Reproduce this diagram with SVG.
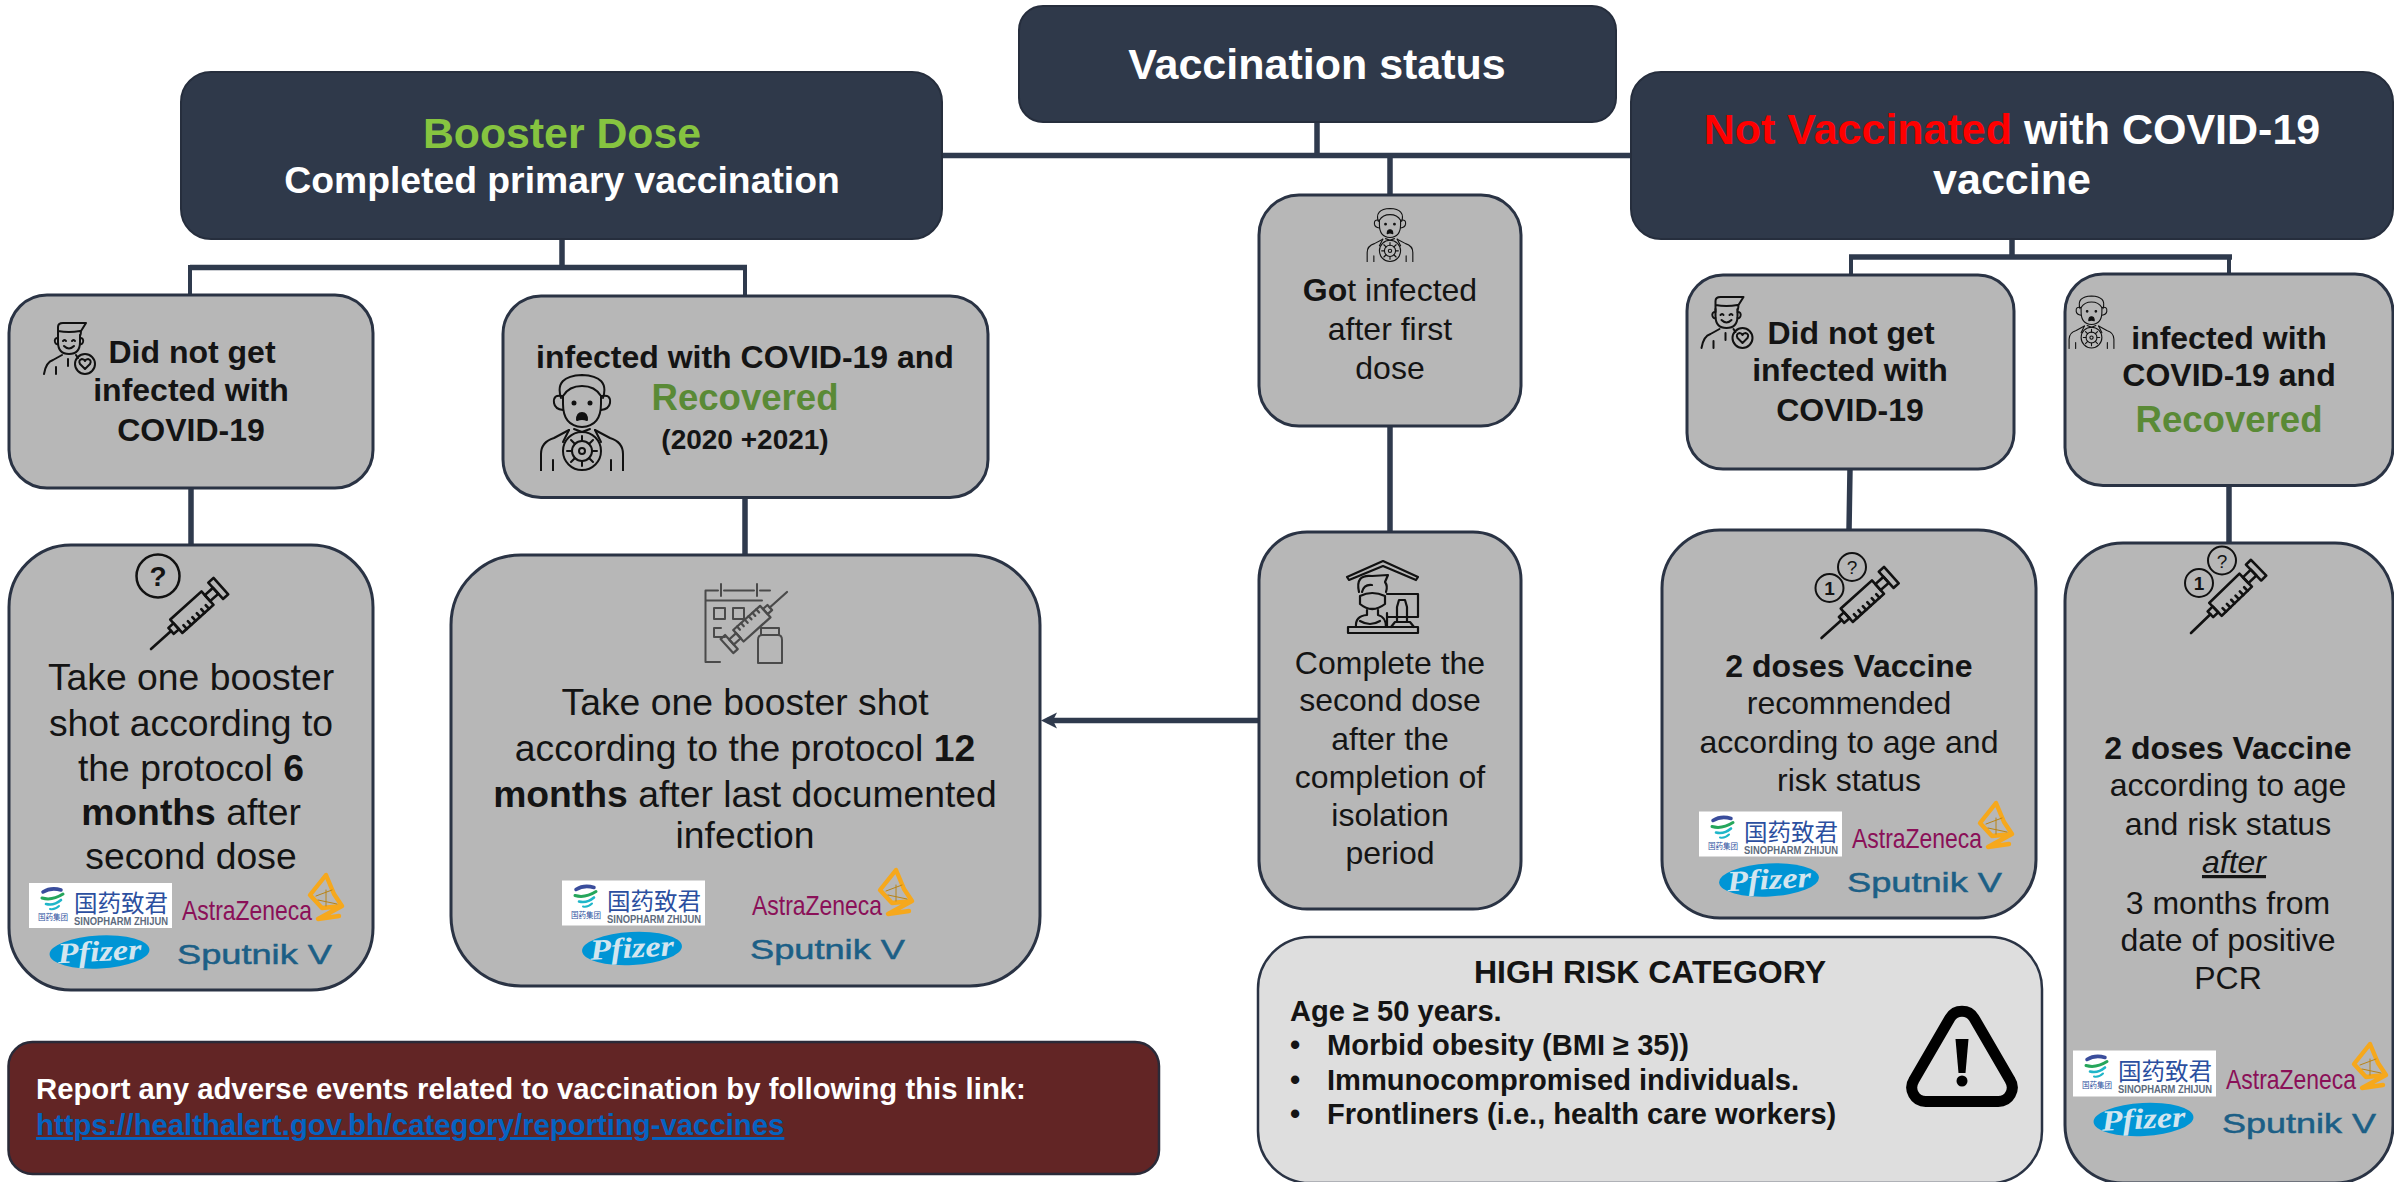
<svg xmlns="http://www.w3.org/2000/svg" width="2394" height="1182" viewBox="0 0 2394 1182">
<style>
text{font-family:"Liberation Sans",Arial,sans-serif;fill:#141414}
.dark{fill:#2f394a;stroke:#262e3d;stroke-width:2}
.grey{fill:#b7b7b7;stroke:#2a3344;stroke-width:3}
.c{text-anchor:middle}
.w{fill:#fff;font-weight:700}
.b{font-weight:700}
.t32{font-size:32px}
.t37{font-size:37.3px}
.rec{fill:#5a8a36;font-weight:700;font-size:36.6px}
.conn{fill:none;stroke:#2f3a4d;stroke-width:5.5}
.thin{stroke-width:4}
.ic{fill:none;stroke:#111;stroke-width:2;stroke-linecap:round;stroke-linejoin:round}
.syr{fill:none;stroke:currentColor;stroke-width:2.6;stroke-linejoin:round;stroke-linecap:round}
.cn{font-family:"Liberation Sans","Noto Sans CJK SC",sans-serif;fill:#2b4fa0}
.sino{font-weight:700;font-size:10.5px;fill:#5d6b7d}
.az{font-size:28px;fill:#8a1058}
.pf{font-family:"Liberation Serif",serif;font-weight:700;font-style:italic;font-size:29px;fill:#d3e5ef}
.sp{font-size:28px;fill:#1c5f86;stroke:#1c5f86;stroke-width:.5}
</style>
<defs>
<marker id="arr" markerUnits="userSpaceOnUse" markerWidth="18" markerHeight="18" refX="10" refY="9" orient="auto"><path d="M0 1L16 9L0 17L4 9Z" fill="#2f3a4d"/></marker>
<symbol id="man-ok" viewBox="0 0 53 53">
<g class="ic" stroke-width="1.5">
<path d="M15 15V5Q15 1 20 1H43L38 9Q38 12 37 14M15 9Q26 11 37 9"/>
<path d="M15 13V20Q15 32 26 32Q37 32 37 20V13"/>
<path d="M15 16Q11 16 12 20Q13 23 15 22M37 16Q41 16 40 20Q39 23 37 22"/>
<path d="M20 19Q22 17 23 19M29 19Q31 17 32 19M21 24Q26 29 31 24"/>
<path d="M1 52Q3 40 10 38L19 33M33 33L35 36M13 45V52M25 37V44"/>
<circle cx="42" cy="42" r="10"/>
<path d="M42 47L37 42Q35 38 39 37Q41 37 42 39Q43 37 45 37Q49 38 47 42Z"/>
</g>
</symbol>
<symbol id="man-sick" viewBox="0 0 86 97">
<g class="ic" stroke-width="2.8">
<path d="M22 24Q15 2 43 1Q71 2 64 24"/>
<path d="M24 22Q30 12 43 12Q56 12 62 22"/>
<path d="M24 22V30Q24 52 43 53Q62 52 62 30V22"/>
<path d="M23 22Q14 20 15 29Q16 35 24 36M63 22Q72 20 71 29Q70 35 62 36"/>
<path d="M38 46Q38 39 43 39Q48 39 48 46Q43 44 38 46Z" fill="#111"/>
<circle cx="35" cy="29" r="1.5" fill="#111"/><circle cx="51" cy="29" r="1.5" fill="#111"/>
<path d="M2 97V80Q2 68 15 64L30 56M84 97V80Q84 68 71 64L56 56M14 97V86M72 97V86"/>
<path d="M30 56L24 68M56 56L62 68M35 55L43 58L51 55"/>
<circle cx="43" cy="77" r="19"/>
<circle cx="43" cy="77" r="10"/><circle cx="43" cy="77" r="3"/>
<path d="M43 67V62M43 87V92M33 77H28M53 77H58M36 70L32 66M50 84L54 88M36 84L32 88M50 70L54 66"/>
</g>
</symbol>
<g id="syr" class="syr">
<path d="M0 0H27"/>
<path d="M27-4H34V4H27Z"/>
<path d="M34-9H76V9H34Z"/>
<path d="M40 9V4M46 9V4M52 9V4M58 9V4M64 9V4M70 9V4"/>
<path d="M76-4H87V4H76Z"/>
<path d="M87-11H94V11H87Z"/>
</g>
<g id="za" fill="none" stroke-linejoin="round" stroke-linecap="round">
<path d="M144-45L128-25L140-12L160-14L152-26ZM160-14L136-1L157-4" stroke="#f6a81c" stroke-width="4.4"/>
<path d="M134-24L150-30M136-20L155-16M144-30V-14" stroke="#b98416" stroke-width="1"/>
</g>
<g id="sinomark" fill="none" stroke-linecap="round">
<path d="M14 9Q22 4 32 7" stroke="#3a4d9c" stroke-width="3.5"/>
<path d="M13 15Q23 18 34 11" stroke="#26a65b" stroke-width="3"/>
<path d="M17 21Q25 23 32 17" stroke="#1fb6c9" stroke-width="2.6"/>
<path d="M21 26Q26 27 30 23" stroke="#1fb6c9" stroke-width="2"/>
</g>
</defs>
<rect width="2394" height="1182" fill="#fff"/>

<g id="connectors">
<path class="conn" d="M942 155.500H1631M1317 122V155.500M1390 155.500V195"/>
<path class="conn" d="M562 239V267.500M190 267.500H747"/>
<path class="conn thin" d="M190 265V296M745 265V296"/>
<path class="conn" d="M191 488V545M745 498V555M1390 426V532"/>
<path class="conn" d="M2012 239V257M1849 257H2232"/>
<path class="conn thin" d="M1851 255V276M2229 255V275"/>
<path class="conn" d="M1850 469L1849 531M2229 485V544"/>
<path class="conn" d="M1258 720.500H1047" marker-end="url(#arr)"/>
</g>

<g id="node-status">
<rect class="dark" x="1019" y="6" width="597" height="116" rx="24"/>
<text class="c w" x="1317" y="79" style="font-size:43px">Vaccination status</text>
</g>

<g id="node-booster">
<rect class="dark" x="181" y="72" width="761" height="167" rx="30"/>
<text class="c b" x="562" y="148" style="font-size:42.8px;fill:#86c440">Booster Dose</text>
<text class="c w" x="562" y="193" style="font-size:37.3px">Completed primary vaccination</text>
</g>

<g id="node-not-vaccinated">
<rect class="dark" x="1631" y="72" width="762" height="167" rx="30"/>
<text class="c w" x="2012" y="144" style="font-size:43px"><tspan style="fill:#ff0000">Not Vaccinated</tspan> with COVID-19</text>
<text class="c w" x="2012" y="194" style="font-size:43px">vaccine</text>
</g>

<g id="node-a1">
<rect class="grey" x="9" y="295" width="364" height="193" rx="38"/>
<use href="#man-ok" x="43" y="322" width="53" height="53"/>
<text class="c b t32" x="192" y="363">Did not get</text>
<text class="c b t32" x="191" y="401">infected with</text>
<text class="c b t32" x="191" y="441">COVID-19</text>
</g>

<g id="node-a2">
<rect class="grey" x="9" y="545" width="364" height="445" rx="62"/>
<circle class="ic" cx="158" cy="576" r="21.500" style="stroke-width:2.5px"/>
<text class="c b" x="158" y="586" style="font-size:28px">?</text>
<use href="#syr" transform="translate(151 649) rotate(-42)" color="#111"/>
<text class="c t37" x="191" y="690">Take one booster</text>
<text class="c t37" x="191" y="736">shot according to</text>
<text class="c t37" x="191" y="781">the protocol <tspan class="b">6</tspan></text>
<text class="c t37" x="191" y="825"><tspan class="b">months</tspan> after</text>
<text class="c t37" x="191" y="869">second dose</text>
<g transform="translate(29 883)">
<rect width="143" height="45" fill="#fff"/>
<use href="#sinomark"/>
<text class="cn" x="45" y="29" style="font-size:23.5px">国药致君</text>
<text class="sino" x="45" y="42" textLength="94" lengthAdjust="spacingAndGlyphs">SINOPHARM ZHIJUN</text>
<text class="cn" x="9" y="37" style="font-size:7.5px">国药集团</text>
</g>
<g transform="translate(182 920)"><text class="az" textLength="130" lengthAdjust="spacingAndGlyphs">AstraZeneca</text><use href="#za"/></g>
<g transform="translate(99.500 952) rotate(-3)"><ellipse rx="50" ry="16.500" fill="#0095d5"/><text class="pf c" y="9" textLength="84" lengthAdjust="spacingAndGlyphs">Pfizer</text></g>
<text class="sp" x="177" y="964" textLength="155" lengthAdjust="spacingAndGlyphs">Sputnik V</text>
</g>

<g id="node-b1">
<rect class="grey" x="503" y="296" width="485" height="201.500" rx="38"/>
<use href="#man-sick" x="539" y="374" width="86" height="97"/>
<text class="c b t32" x="745" y="368">infected with COVID-19 and</text>
<text class="c rec" x="745" y="410">Recovered</text>
<text class="c b" x="745" y="449" style="font-size:28px">(2020 +2021)</text>
</g>

<g id="node-b2">
<rect class="grey" x="451" y="555" width="589" height="431" rx="70"/>
<g class="ic" style="stroke:#4a4a4a;stroke-width:2px">
<path d="M720 662H705.500V590.500H718M724 590.500H754M760 590.500H770M721 584V596M757 584V596M705.500 600.500H762"/>
<path d="M714 608H725V619H714ZM733 608H744V619H733ZM725 637H714V628H721"/>
<path d="M761 635V628H779V635M758 640Q758 635 762 635H778Q782 635 782 640V663H758Z"/>
</g>
<use href="#syr" transform="translate(787 592) rotate(138) scale(.86)" color="#4a4a4a"/>
<text class="c t37" x="745" y="715">Take one booster shot</text>
<text class="c t37" x="745" y="761">according to the protocol <tspan class="b">12</tspan></text>
<text class="c t37" x="745" y="807"><tspan class="b">months</tspan> after last documented</text>
<text class="c t37" x="745" y="848">infection</text>
<g transform="translate(562 880.500)">
<rect width="143" height="45" fill="#fff"/>
<use href="#sinomark"/>
<text class="cn" x="45" y="29" style="font-size:23.5px">国药致君</text>
<text class="sino" x="45" y="42" textLength="94" lengthAdjust="spacingAndGlyphs">SINOPHARM ZHIJUN</text>
<text class="cn" x="9" y="37" style="font-size:7.5px">国药集团</text>
</g>
<g transform="translate(752 915)"><text class="az" textLength="130" lengthAdjust="spacingAndGlyphs">AstraZeneca</text><use href="#za"/></g>
<g transform="translate(632 948.500) rotate(-3)"><ellipse rx="50" ry="16.500" fill="#0095d5"/><text class="pf c" y="9" textLength="84" lengthAdjust="spacingAndGlyphs">Pfizer</text></g>
<text class="sp" x="750" y="958.500" textLength="155" lengthAdjust="spacingAndGlyphs">Sputnik V</text>
</g>

<g id="node-c1">
<rect class="grey" x="1259" y="195" width="262" height="231" rx="40"/>
<use href="#man-sick" x="1366" y="208" width="48" height="54"/>
<text class="c t32" x="1390" y="301"><tspan class="b">Go</tspan>t infected</text>
<text class="c t32" x="1390" y="340">after first</text>
<text class="c t32" x="1390" y="379">dose</text>
</g>

<g id="node-c2">
<rect class="grey" x="1259" y="532" width="262" height="377" rx="48"/>
<g class="ic" style="stroke-width:2.2px">
<path d="M1347 577L1383 561L1418 577L1416 580L1383 566L1349 580Z"/>
<path d="M1348 633H1418V627H1348Z"/>
<path d="M1359 592Q1355 574 1372 576L1388 575L1385 582Q1388 586 1386 592"/>
<path d="M1362 592Q1364 584 1372 585"/>
<path d="M1360 596Q1372 590 1385 596V604Q1372 614 1360 604Z"/>
<path d="M1367 610V615Q1355 616 1356 627M1378 610V615Q1386 617 1386 627M1360 621Q1370 627 1380 621"/>
<path d="M1387 594H1418V617H1387M1387 613V627M1397 607L1399 600H1405L1407 607V622H1397ZM1391 627L1395 622H1410L1414 627"/>
</g>
<text class="c t32" x="1390" y="674">Complete the</text>
<text class="c t32" x="1390" y="711">second dose</text>
<text class="c t32" x="1390" y="750">after the</text>
<text class="c t32" x="1390" y="788">completion of</text>
<text class="c t32" x="1390" y="826">isolation</text>
<text class="c t32" x="1390" y="864">period</text>
</g>

<g id="node-d1">
<rect class="grey" x="1687" y="275" width="327" height="194" rx="36"/>
<use href="#man-ok" x="1700" y="296" width="54" height="53"/>
<text class="c b t32" x="1851" y="344">Did not get</text>
<text class="c b t32" x="1850" y="381">infected with</text>
<text class="c b t32" x="1850" y="421">COVID-19</text>
</g>

<g id="node-d2">
<rect class="grey" x="1662" y="530" width="374" height="388" rx="58"/>
<circle class="ic" cx="1852" cy="567" r="14"/>
<text class="c" x="1852" y="574" style="font-size:19px">?</text>
<circle class="ic" cx="1829.500" cy="588" r="14"/>
<text class="c b" x="1829.500" y="595" style="font-size:19px">1</text>
<use href="#syr" transform="translate(1821.500 638) rotate(-42)" color="#111"/>
<text class="c b t32" x="1849" y="677">2 doses Vaccine</text>
<text class="c t32" x="1849" y="714">recommended</text>
<text class="c t32" x="1849" y="753">according to age and</text>
<text class="c t32" x="1849" y="791">risk status</text>
<g transform="translate(1699 811.500)">
<rect width="143" height="45" fill="#fff"/>
<use href="#sinomark"/>
<text class="cn" x="45" y="29" style="font-size:23.5px">国药致君</text>
<text class="sino" x="45" y="42" textLength="94" lengthAdjust="spacingAndGlyphs">SINOPHARM ZHIJUN</text>
<text class="cn" x="9" y="37" style="font-size:7.5px">国药集团</text>
</g>
<g transform="translate(1852 848)"><text class="az" textLength="130" lengthAdjust="spacingAndGlyphs">AstraZeneca</text><use href="#za"/></g>
<g transform="translate(1769 880) rotate(-3)"><ellipse rx="50" ry="16.500" fill="#0095d5"/><text class="pf c" y="9" textLength="84" lengthAdjust="spacingAndGlyphs">Pfizer</text></g>
<text class="sp" x="1847" y="892" textLength="155" lengthAdjust="spacingAndGlyphs">Sputnik V</text>
</g>

<g id="node-e1">
<rect class="grey" x="2065" y="274" width="328" height="211.500" rx="38"/>
<use href="#man-sick" x="2068" y="295" width="47" height="54"/>
<text class="c b t32" x="2229" y="349">infected with</text>
<text class="c b t32" x="2229" y="386">COVID-19 and</text>
<text class="c rec" x="2229" y="432">Recovered</text>
</g>

<g id="node-e2">
<rect class="grey" x="2065" y="543" width="328" height="640" rx="58"/>
<circle class="ic" cx="2222" cy="560.500" r="14"/>
<text class="c" x="2222" y="567.500" style="font-size:19px">?</text>
<circle class="ic" cx="2199" cy="583" r="14"/>
<text class="c b" x="2199" y="590" style="font-size:19px">1</text>
<use href="#syr" transform="translate(2191 633) rotate(-44)" color="#111"/>
<text class="c b t32" x="2228" y="759">2 doses Vaccine</text>
<text class="c t32" x="2228" y="796">according to age</text>
<text class="c t32" x="2228" y="835">and risk status</text>
<text class="c t32" x="2234" y="873" style="font-style:italic;text-decoration:underline">after</text>
<text class="c t32" x="2228" y="914">3 months from</text>
<text class="c t32" x="2228" y="951">date of positive</text>
<text class="c t32" x="2228" y="989">PCR</text>
<g transform="translate(2073 1050.500)">
<rect width="143" height="46" fill="#fff"/>
<use href="#sinomark"/>
<text class="cn" x="45" y="29" style="font-size:23.5px">国药致君</text>
<text class="sino" x="45" y="42" textLength="94" lengthAdjust="spacingAndGlyphs">SINOPHARM ZHIJUN</text>
<text class="cn" x="9" y="37" style="font-size:7.5px">国药集团</text>
</g>
<g transform="translate(2226 1089)"><text class="az" textLength="130" lengthAdjust="spacingAndGlyphs">AstraZeneca</text><use href="#za"/></g>
<g transform="translate(2143.500 1119.500) rotate(-3)"><ellipse rx="50" ry="16.500" fill="#0095d5"/><text class="pf c" y="9" textLength="84" lengthAdjust="spacingAndGlyphs">Pfizer</text></g>
<text class="sp" x="2222" y="1133" textLength="154" lengthAdjust="spacingAndGlyphs">Sputnik V</text>
</g>

<g id="node-risk">
<rect x="1258" y="937" width="784" height="246" rx="52" fill="#dedede" stroke="#2a3344" stroke-width="2.500"/>
<text class="c b t32" x="1650" y="983">HIGH RISK CATEGORY</text>
<g class="b" style="font-size:29.1px">
<text x="1290" y="1021">Age ≥ 50 years.</text>
<text x="1290" y="1055">•</text><text x="1327" y="1055">Morbid obesity (BMI ≥ 35))</text>
<text x="1290" y="1090">•</text><text x="1327" y="1090">Immunocompromised individuals.</text>
<text x="1290" y="1124">•</text><text x="1327" y="1124">Frontliners (i.e., health care workers)</text>
</g>
<path d="M1950 1018A14 14 0 0 1 1974 1018L2010 1080A14 14 0 0 1 1998 1101.500H1926A14 14 0 0 1 1914 1080Z" fill="none" stroke="#000" stroke-width="11"/>
<path d="M1955.500 1039H1968.500L1965.500 1073H1958.500Z" fill="#000"/>
<circle cx="1962" cy="1081" r="5.500" fill="#000"/>
</g>

<g id="node-report">
<rect x="8.500" y="1042" width="1150.500" height="132" rx="24" fill="#622525" stroke="#2a2a38" stroke-width="2.500"/>
<text class="w" x="36" y="1099" style="font-size:29.3px">Report any adverse events related to vaccination by following this link:</text>
<text class="b" x="36" y="1135" style="font-size:29.3px;fill:#0563c1;text-decoration:underline">https://healthalert.gov.bh/category/reporting-vaccines</text>
</g>
</svg>
